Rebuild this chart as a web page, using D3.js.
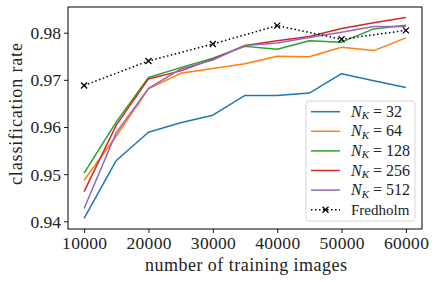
<!DOCTYPE html>
<html>
<head>
<meta charset="utf-8">
<script src="https://cdn.jsdelivr.net/npm/d3@7"></script>
<style>
  body { margin: 0; background: #fff; }
  text { font-family: "Liberation Serif", "DejaVu Serif", serif; fill: #222; }
</style>
</head>
<body>
<div id="chart"></div>
<script>
// training set sizes
var trainSizes = [10000, 15000, 20000, 25000, 30000, 35000, 40000, 45000, 50000, 55000, 60000];
var fredholmSizes = [10000, 20000, 30000, 40000, 50000, 60000];

// classification rate per N_K
var nk32 = [0.9406, 0.9529, 0.9589, 0.9609, 0.9625, 0.9667, 0.9667, 0.9672, 0.9713, 0.9698, 0.9684];
var nk64 = [0.9487, 0.9581, 0.9681, 0.9714, 0.9724, 0.9734, 0.9750, 0.9749, 0.9769, 0.9762, 0.9789];
var nk128 = [0.9502, 0.9611, 0.9705, 0.9726, 0.9746, 0.9771, 0.9765, 0.9783, 0.9780, 0.9808, 0.9816];
var nk256 = [0.9463, 0.9604, 0.9702, 0.9719, 0.9744, 0.9773, 0.9783, 0.9792, 0.9809, 0.9821, 0.9832];
var nk512 = [0.9427, 0.9588, 0.9682, 0.9723, 0.9742, 0.9773, 0.9778, 0.9790, 0.9801, 0.9813, 0.9813];
var fredholm = [0.9688, 0.9740, 0.9776, 0.9815, 0.9786, 0.9805];

var seriesNames = ["32", "64", "128", "256", "512"];
var seriesColors = ["#1f77b4", "#ff7f0e", "#2ca02c", "#d62728", "#9467bd"];

var xTicks = [10000, 20000, 30000, 40000, 50000, 60000];
var yTicks = [0.94, 0.95, 0.96, 0.97, 0.98];

var width = 436, height = 282;
var margin = { top: 7, right: 14, bottom: 53, left: 68 };
var plotW = width - margin.left - margin.right;
var plotH = height - margin.top - margin.bottom;

var svg = d3.select("#chart")
  .append("svg")
  .attr("width", width)
  .attr("height", height);

var g = svg.append("g")
  .attr("transform", "translate(" + margin.left + "," + margin.top + ")");

// scales (matplotlib style 5% padding)
var x = d3.scaleLinear().domain([7500, 62500]).range([0, plotW]);
var y = d3.scaleLinear().domain([0.93837, 0.98545]).range([plotH, 0]);

// axes
var xAxis = g.append("g")
  .attr("transform", "translate(0," + plotH + ")")
  .call(d3.axisBottom(x).tickValues(xTicks).tickFormat(d3.format("d")).tickSize(4).tickPadding(4));
var yAxis = g.append("g")
  .call(d3.axisLeft(y).tickValues(yTicks).tickFormat(d3.format(".2f")).tickSize(4).tickPadding(3));

[xAxis, yAxis].forEach(function (a) {
  a.select(".domain").remove();
  a.selectAll("line").attr("stroke", "#000").attr("stroke-width", 0.9);
  a.selectAll("text").style("font-size", "17.5px").attr("fill", "#222");
});
xAxis.selectAll("text").attr("dy", "0.7em").attr("textLength", 45);
yAxis.selectAll("text").attr("dy", "0.34em");

// lines for each N_K
var allSeries = [nk32, nk64, nk128, nk256, nk512];
var line = d3.line()
  .x(function (d, i) { return x(trainSizes[i]); })
  .y(function (d) { return y(d); });

allSeries.forEach(function (s, i) {
  g.append("path")
    .datum(s)
    .attr("fill", "none")
    .attr("stroke", seriesColors[i])
    .attr("stroke-width", 1.5)
    .attr("stroke-linejoin", "round")
    .attr("d", line);
});

// fredholm dotted line with x markers
var fLine = d3.line()
  .x(function (d, i) { return x(fredholmSizes[i]); })
  .y(function (d) { return y(d); });
g.append("path")
  .datum(fredholm)
  .attr("fill", "none")
  .attr("stroke", "#000")
  .attr("stroke-width", 1.5)
  .attr("stroke-dasharray", "1.5,2.5")
  .attr("d", fLine);

function drawCross(sel, cx, cy, r) {
  sel.append("path")
    .attr("d", "M" + (cx - r) + "," + (cy - r) + "L" + (cx + r) + "," + (cy + r) +
      "M" + (cx - r) + "," + (cy + r) + "L" + (cx + r) + "," + (cy - r))
    .attr("stroke", "#000")
    .attr("stroke-width", 1.3);
}
fredholm.forEach(function (d, i) {
  drawCross(g, x(fredholmSizes[i]), y(d), 3);
});

// frame
g.append("rect")
  .attr("width", plotW)
  .attr("height", plotH)
  .attr("fill", "none")
  .attr("stroke", "#000")
  .attr("stroke-width", 1);

// axis labels
svg.append("text")
  .attr("x", margin.left + plotW / 2 + 1)
  .attr("y", 270.5)
  .attr("text-anchor", "middle")
  .style("font-size", "18px")
  .attr("textLength", 202)
  .attr("lengthAdjust", "spacing")
  .text("number of training images");

svg.append("text")
  .attr("transform", "translate(22," + (margin.top + plotH / 2 - 4) + ") rotate(-90)")
  .attr("text-anchor", "middle")
  .style("font-size", "18px")
  .attr("textLength", 142)
  .attr("lengthAdjust", "spacing")
  .text("classification rate");

// legend
var legend = svg.append("g").attr("transform", "translate(306,101)");
legend.append("rect")
  .attr("width", 109)
  .attr("height", 120)
  .attr("rx", 3)
  .attr("fill", "#fff")
  .attr("fill-opacity", 0.85)
  .attr("stroke", "#d6d6d6")
  .attr("stroke-width", 1);

var rowH = 19.6;
seriesNames.forEach(function (n, i) {
  var ly = 10.7 + i * rowH;
  legend.append("line")
    .attr("x1", 5).attr("x2", 34)
    .attr("y1", ly).attr("y2", ly)
    .attr("stroke", seriesColors[i])
    .attr("stroke-width", 1.5);
  var t = legend.append("text")
    .attr("x", 45)
    .attr("y", ly + 5)
    .style("font-size", "16px");
  t.append("tspan").style("font-style", "italic").text("N");
  t.append("tspan").style("font-style", "italic").style("font-size", "11px").attr("dy", 2.5).text("K");
  t.append("tspan").attr("dy", -2.5).text(" = " + n);
});

var fy = 10.7 + 5 * rowH;
legend.append("line")
  .attr("x1", 5).attr("x2", 34)
  .attr("y1", fy).attr("y2", fy)
  .attr("stroke", "#000")
  .attr("stroke-width", 1.5)
  .attr("stroke-dasharray", "1.5,2.5");
drawCross(legend, 19.5, fy, 3);
legend.append("text")
  .attr("x", 45)
  .attr("y", fy + 5)
  .style("font-size", "15px")
  .text("Fredholm");
</script>
</body>
</html>
